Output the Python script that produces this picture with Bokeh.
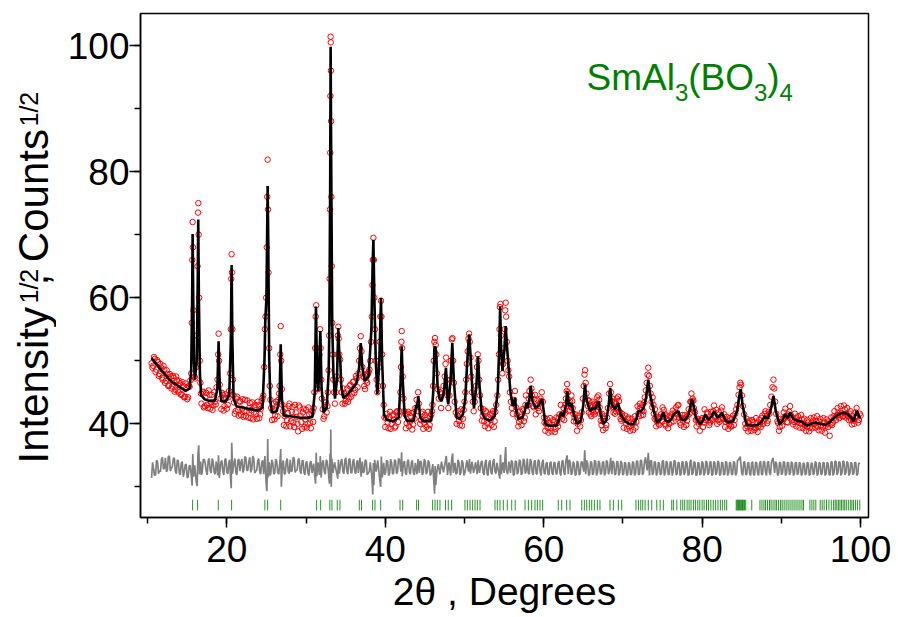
import numpy as np
from bokeh.plotting import figure
from bokeh.models import Label, SingleIntervalTicker, Range1d
from bokeh.layouts import row
from bokeh.core.properties import value
from bokeh.embed import file_html
from bokeh.resources import INLINE

# ---------------- data ----------------
# calculated profile (black line): (2theta, sqrt(I))
calc_pts = [
    (10.5, 50.4), (11.2, 49.3), (12.0, 48.1), (13.0, 46.7), (14.0, 45.9), (14.8, 45.2), (15.3, 45.6),
    (15.5, 48.5), (15.62, 60.0), (15.68, 70.1), (15.76, 60.0), (15.85, 50.0), (15.97, 47.0),
    (16.2, 50.0), (16.32, 62.0), (16.39, 72.4), (16.47, 60.0), (16.6, 48.0), (16.75, 44.5),
    (17.2, 43.9), (17.9, 43.6), (18.5, 43.7), (18.8, 45.5), (18.96, 53.1), (19.1, 46.0), (19.3, 43.6),
    (19.8, 43.5), (20.3, 44.5), (20.5, 53.0), (20.6, 65.2), (20.7, 53.0), (20.85, 44.0),
    (21.2, 42.8), (22.0, 42.6), (23.0, 42.3), (24.0, 42.1), (24.5, 42.6), (24.75, 50.0), (24.85, 56.3),
    (25.0, 60.0), (25.1, 72.0), (25.15, 77.7), (25.22, 70.0), (25.35, 50.0), (25.5, 43.5), (25.7, 41.8),
    (26.3, 42.0), (26.65, 44.0), (26.8, 52.6), (26.95, 44.0), (27.2, 41.3), (28.0, 41.2), (29.0, 41.0),
    (30.0, 40.9), (30.8, 41.1), (31.1, 45.0), (31.25, 58.6), (31.4, 47.0), (31.55, 45.2), (31.8, 54.7),
    (31.95, 46.0), (32.2, 41.8), (32.6, 42.5), (32.85, 48.0), (32.95, 56.0), (33.05, 80.0), (33.1, 99.8),
    (33.18, 80.0), (33.3, 56.0), (33.45, 48.0), (33.65, 44.0), (33.9, 47.0), (34.07, 55.2), (34.2, 51.0),
    (34.3, 50.5), (34.45, 46.0), (34.7, 44.1), (35.2, 44.6), (35.8, 45.5), (36.4, 46.5), (36.7, 49.0),
    (36.9, 52.8), (37.1, 49.0), (37.4, 46.8), (37.9, 47.5), (38.25, 55.0), (38.4, 65.0), (38.5, 69.2),
    (38.62, 60.0), (38.8, 50.0), (39.0, 44.7), (39.25, 50.0), (39.46, 60.0), (39.6, 50.0), (39.84, 41.5),
    (40.2, 40.6), (41.0, 40.4), (41.7, 41.0), (41.95, 47.0), (42.07, 52.3), (42.2, 47.0), (42.45, 41.2),
    (42.8, 40.4), (43.6, 40.5), (43.9, 43.0), (44.0, 42.5), (44.17, 44.4), (44.4, 41.0), (44.8, 40.4),
    (45.8, 40.5), (46.05, 45.0), (46.2, 52.0), (46.3, 52.3), (46.42, 51.5), (46.6, 46.0), (46.85, 44.0),
    (47.1, 43.6), (47.4, 45.0), (47.66, 48.9), (47.85, 44.0), (47.95, 43.1), (48.25, 47.0), (48.46, 52.8),
    (48.65, 47.0), (49.0, 41.0), (49.4, 40.8), (49.8, 41.5), (50.1, 44.0), (50.3, 48.8), (50.45, 52.0),
    (50.6, 54.2), (50.8, 50.0), (51.0, 45.0), (51.2, 42.5), (51.5, 46.0), (51.7, 50.7), (51.9, 46.0),
    (52.17, 41.8), (52.6, 40.8), (53.2, 40.5), (53.8, 41.2), (54.2, 45.0), (54.4, 53.0), (54.5, 58.6),
    (54.62, 52.0), (54.8, 48.4), (55.05, 52.0), (55.2, 55.5), (55.38, 52.0), (55.6, 48.4), (55.8, 45.0),
    (56.1, 42.8), (56.37, 44.1), (56.55, 42.0), (56.8, 40.8), (57.3, 41.0), (57.6, 42.0), (57.8, 43.3),
    (58.0, 42.5), (58.2, 44.0), (58.36, 46.0), (58.6, 43.5), (59.0, 42.5), (59.4, 43.0), (59.8, 43.9),
    (60.0, 42.0), (60.2, 40.0), (60.7, 39.7), (61.6, 39.7), (61.9, 40.5), (62.15, 41.8), (62.5, 41.2),
    (62.8, 43.0), (62.98, 45.2), (63.2, 42.8), (63.5, 43.3), (63.8, 41.5), (64.2, 40.0), (64.7, 40.5),
    (65.0, 43.0), (65.2, 46.2), (65.4, 44.0), (65.6, 43.0), (65.85, 42.0), (66.2, 42.5), (66.5, 42.3),
    (66.9, 43.6), (67.2, 41.5), (67.5, 40.0), (67.9, 40.5), (68.2, 43.0), (68.4, 45.7), (68.6, 43.0),
    (69.0, 42.3), (69.4, 43.3), (69.7, 41.5), (70.27, 40.4), (70.8, 40.0), (71.3, 39.9), (71.7, 40.8),
    (71.95, 42.0), (72.3, 42.0), (72.6, 42.5), (72.9, 44.0), (73.2, 47.0), (73.4, 45.0), (73.6, 43.6),
    (73.9, 42.0), (74.3, 40.2), (74.7, 40.6), (75.1, 41.8), (75.4, 40.5), (75.8, 40.3), (76.2, 41.0),
    (76.5, 41.6), (77.0, 42.0), (77.3, 40.8), (77.8, 40.5), (78.3, 41.5), (78.7, 43.9), (78.9, 43.0),
    (79.2, 41.0), (79.75, 39.9), (80.1, 40.5), (80.4, 41.5), (80.8, 40.6), (81.2, 41.2), (81.5, 42.0),
    (81.9, 41.0), (82.2, 41.2), (82.5, 41.8), (82.9, 40.6), (83.3, 40.2), (83.9, 40.4), (84.4, 42.0),
    (84.7, 44.5), (84.87, 45.5), (85.1, 43.0), (85.6, 39.8), (86.3, 39.7), (87.0, 39.8), (87.5, 40.3),
    (87.9, 41.2), (88.3, 40.8), (88.7, 42.5), (89.0, 44.4), (89.3, 42.0), (89.75, 39.9), (90.1, 40.4),
    (90.47, 41.5), (90.8, 40.9), (91.1, 41.8), (91.5, 40.8), (92.0, 40.5), (92.5, 40.4), (93.2, 39.7),
    (93.8, 40.0), (94.3, 40.2), (94.8, 40.0), (95.3, 39.9), (95.7, 39.9), (96.2, 40.4), (96.7, 41.0),
    (97.2, 41.5), (97.8, 41.8), (98.3, 41.6), (98.8, 41.0), (99.1, 40.4), (99.5, 42.0), (99.9, 41.0),
    (100.0, 41.0),
]

# observed points (red open circles)
obs_pts = [
    (10.5, 49.6), (10.7, 49.2), (10.9, 50.3), (11.1, 48.6), (11.3, 49.8), (11.5, 47.9), (11.7, 48.9),
    (11.9, 47.0), (12.1, 48.6), (12.3, 46.8), (12.5, 47.9), (12.7, 46.1), (12.9, 47.5), (13.1, 45.9),
    (13.3, 47.3), (13.5, 45.4), (13.7, 46.9), (13.9, 45.0), (14.1, 46.4), (14.3, 44.7), (14.5, 46.0),
    (14.7, 44.3), (14.9, 45.7), (15.1, 44.2), (15.3, 45.9),
    (15.5, 48.0), (15.58, 56.0), (15.64, 66.0), (15.68, 72.0), (15.72, 68.0), (15.78, 58.0), (15.86, 50.0),
    (15.94, 47.5), (16.02, 47.2), (16.12, 49.0), (16.22, 54.0), (16.3, 65.0), (16.36, 73.5), (16.4, 75.0),
    (16.44, 70.0), (16.5, 60.0), (16.58, 50.0), (16.66, 46.5), (16.74, 44.8),
    (16.9, 45.0), (17.1, 42.6), (17.3, 44.2), (17.5, 43.0), (17.7, 45.3), (17.9, 42.4), (18.1, 44.6),
    (18.3, 42.9), (18.5, 43.5), (18.7, 45.8),
    (18.82, 47.0), (18.9, 51.0), (18.96, 54.3), (19.02, 50.0), (19.1, 46.2), (19.2, 44.0),
    (19.3, 42.3), (19.5, 44.6), (19.7, 42.8), (19.9, 44.1), (20.1, 43.0), (20.3, 45.2),
    (20.42, 48.0), (20.5, 55.0), (20.56, 63.0), (20.6, 66.9), (20.64, 64.0), (20.7, 55.0), (20.78, 47.0),
    (20.86, 44.5),
    (21.0, 41.6), (21.2, 44.0), (21.4, 42.2), (21.6, 43.6), (21.8, 41.4), (22.0, 43.9), (22.2, 42.0),
    (22.4, 41.2), (22.6, 43.7), (22.8, 42.5), (23.0, 40.9), (23.2, 43.4), (23.4, 41.8), (23.6, 43.0),
    (23.8, 40.8), (24.0, 42.9), (24.2, 41.5), (24.4, 43.6),
    (24.6, 44.5), (24.72, 49.0), (24.8, 55.0), (24.88, 57.0), (24.96, 60.0), (25.04, 68.0), (25.1, 76.0),
    (25.15, 81.9), (25.2, 74.0), (25.26, 64.0), (25.34, 52.0), (25.42, 46.0), (25.5, 43.8), (25.6, 42.5),
    (25.7, 40.6), (25.9, 43.2), (26.1, 41.3), (26.3, 42.9), (26.5, 43.8),
    (26.66, 46.0), (26.74, 51.0), (26.8, 55.5), (26.86, 50.0), (26.94, 45.5), (27.02, 43.0),
    (27.2, 39.8), (27.4, 42.4), (27.6, 40.6), (27.8, 42.8), (28.0, 39.6), (28.2, 41.9), (28.4, 40.2),
    (28.6, 43.0), (28.8, 41.1), (29.0, 38.8), (29.2, 42.6), (29.4, 40.3), (29.6, 41.8), (29.8, 39.5),
    (30.0, 42.2), (30.2, 40.0), (30.4, 41.5), (30.6, 39.3), (30.8, 42.0),
    (30.95, 42.5), (31.05, 45.0), (31.15, 52.0), (31.22, 57.0), (31.28, 58.8), (31.34, 52.0), (31.42, 47.0),
    (31.5, 45.5), (31.6, 47.0), (31.7, 51.0), (31.78, 55.0), (31.84, 52.0), (31.92, 47.0), (32.0, 44.0),
    (32.1, 42.3), (32.2, 40.8), (32.4, 42.9), (32.6, 41.8),
    (32.75, 45.0), (32.85, 48.5), (32.92, 54.0), (32.98, 63.0), (33.02, 74.0), (33.05, 83.0), (33.07, 92.0),
    (33.1, 101.4), (33.12, 100.5), (33.14, 96.0), (33.16, 88.0), (33.2, 76.0), (33.24, 65.0), (33.3, 56.0),
    (33.36, 51.0), (33.44, 47.0), (33.54, 45.0), (33.64, 43.2),
    (33.76, 45.0), (33.88, 47.5), (33.96, 51.0), (34.02, 54.0), (34.07, 55.4), (34.12, 53.5), (34.2, 51.0),
    (34.3, 50.2), (34.4, 47.0), (34.5, 45.0),
    (34.6, 43.2), (34.8, 44.8), (35.0, 43.6), (35.2, 45.6), (35.4, 44.0), (35.6, 46.2), (35.8, 44.8),
    (36.0, 46.7), (36.2, 45.4), (36.4, 47.2),
    (36.6, 48.0), (36.7, 50.0), (36.8, 52.0), (36.9, 53.9), (37.0, 51.5), (37.1, 49.0), (37.2, 47.5),
    (37.35, 46.0), (37.5, 47.8), (37.7, 46.5), (37.9, 48.2),
    (38.1, 50.0), (38.2, 53.0), (38.3, 57.0), (38.38, 62.0), (38.44, 66.0), (38.5, 69.5), (38.56, 66.0),
    (38.62, 60.0), (38.7, 55.0), (38.8, 50.0), (38.9, 47.0), (39.0, 45.0),
    (39.1, 46.0), (39.2, 49.0), (39.3, 53.0), (39.38, 57.0), (39.46, 59.5), (39.52, 57.0), (39.6, 51.0),
    (39.7, 46.0), (39.8, 43.0), (39.9, 41.0),
    (40.0, 39.5), (40.2, 41.6), (40.4, 39.3), (40.6, 41.9), (40.8, 40.0), (41.0, 41.5), (41.2, 39.4),
    (41.4, 41.8), (41.6, 40.3), (41.8, 42.0),
    (41.9, 45.0), (41.98, 49.0), (42.04, 53.0), (42.08, 54.7), (42.12, 52.0), (42.2, 47.5), (42.3, 44.0),
    (42.4, 42.0),
    (42.6, 39.3), (42.8, 41.6), (43.0, 39.6), (43.2, 41.2), (43.4, 39.1), (43.6, 41.8), (43.8, 42.5),
    (43.95, 43.8), (44.05, 42.0), (44.15, 45.0), (44.25, 43.2), (44.4, 40.0), (44.6, 41.6), (44.8, 39.2),
    (45.0, 41.4), (45.2, 39.5), (45.4, 41.9), (45.6, 39.8), (45.8, 41.5),
    (45.95, 43.0), (46.05, 46.0), (46.12, 50.0), (46.2, 53.0), (46.28, 53.6), (46.36, 52.5), (46.44, 51.0),
    (46.52, 48.0), (46.62, 45.5), (46.75, 44.0), (46.9, 45.0), (47.05, 42.5),
    (47.2, 44.8), (47.35, 46.0), (47.5, 47.5), (47.6, 49.5), (47.68, 50.5), (47.76, 47.0), (47.86, 44.5),
    (47.96, 42.5),
    (48.1, 44.5), (48.2, 47.0), (48.3, 50.0), (48.4, 53.4), (48.48, 53.6), (48.56, 50.0), (48.66, 46.5),
    (48.76, 43.5), (48.9, 41.8),
    (49.0, 40.0), (49.2, 42.0), (49.4, 39.8), (49.6, 42.3), (49.8, 40.8), (50.0, 43.5),
    (50.1, 45.0), (50.2, 47.0), (50.3, 49.5), (50.4, 51.5), (50.5, 53.5), (50.58, 54.3), (50.66, 53.0),
    (50.76, 50.5), (50.86, 47.5), (50.96, 45.0), (51.06, 43.5), (51.16, 42.0),
    (51.3, 43.5), (51.45, 46.0), (51.58, 49.0), (51.68, 51.0), (51.76, 50.0), (51.86, 47.0), (51.96, 44.5),
    (52.06, 42.5),
    (52.2, 40.5), (52.4, 42.3), (52.6, 39.6), (52.8, 41.8), (53.0, 39.3), (53.2, 41.5), (53.4, 39.8),
    (53.6, 42.0), (53.8, 40.4), (54.0, 43.0),
    (54.15, 44.5), (54.25, 47.0), (54.35, 51.0), (54.42, 55.0), (54.48, 58.5), (54.54, 59.0), (54.6, 54.0),
    (54.68, 50.0), (54.78, 48.0), (54.88, 49.5), (54.98, 52.0), (55.06, 55.0), (55.14, 58.0), (55.2, 59.2),
    (55.26, 57.0), (55.34, 53.0), (55.44, 50.0), (55.54, 48.5), (55.64, 47.5), (55.74, 45.0), (55.86, 43.5),
    (55.98, 42.5),
    (56.1, 41.6), (56.25, 43.8), (56.38, 45.2), (56.5, 42.6), (56.62, 41.5), (56.8, 39.6), (57.0, 41.9),
    (57.2, 39.8), (57.4, 42.1), (57.6, 41.0), (57.75, 44.5), (57.9, 42.0), (58.05, 43.0), (58.2, 45.2),
    (58.35, 47.0), (58.5, 44.5), (58.65, 42.8), (58.8, 43.9), (59.0, 41.5), (59.2, 43.8), (59.4, 42.0),
    (59.6, 44.0), (59.75, 45.0), (59.9, 43.5), (60.05, 41.0), (60.2, 38.9), (60.4, 40.8), (60.6, 38.6),
    (60.8, 40.9), (61.0, 38.8), (61.2, 40.6), (61.4, 38.7), (61.6, 41.0), (61.8, 39.6),
    (62.0, 41.5), (62.15, 43.0), (62.3, 40.8), (62.5, 42.5), (62.65, 41.6), (62.8, 44.0), (62.95, 46.3),
    (63.05, 45.0), (63.2, 42.0), (63.35, 43.5), (63.5, 44.5), (63.65, 42.5), (63.8, 40.4), (64.0, 41.5),
    (64.2, 38.9), (64.4, 40.9), (64.6, 39.6),
    (64.8, 41.8), (64.95, 44.0), (65.05, 46.0), (65.15, 47.8), (65.22, 48.5), (65.3, 46.5), (65.4, 44.8),
    (65.55, 43.8), (65.7, 41.8), (65.85, 42.9), (66.0, 41.2), (66.15, 43.5), (66.3, 41.8), (66.45, 43.2),
    (66.6, 42.0), (66.75, 44.2), (66.9, 44.5), (67.05, 42.6), (67.2, 40.5), (67.35, 41.6), (67.5, 39.0),
    (67.7, 41.2), (67.9, 39.8),
    (68.1, 42.5), (68.25, 44.8), (68.38, 46.3), (68.5, 45.0), (68.65, 43.0), (68.8, 41.8), (68.95, 43.5),
    (69.1, 42.0), (69.25, 44.0), (69.4, 44.3), (69.55, 42.0), (69.7, 40.8), (69.9, 41.6), (70.1, 39.4),
    (70.3, 41.3), (70.5, 39.2), (70.7, 41.0), (70.9, 38.9), (71.1, 40.8), (71.3, 39.0), (71.5, 41.2),
    (71.7, 40.3),
    (71.85, 42.8), (72.0, 41.2), (72.15, 43.2), (72.3, 41.3), (72.45, 43.0), (72.6, 42.0), (72.75, 44.2),
    (72.9, 45.3), (73.0, 46.5), (73.1, 47.8), (73.2, 48.9), (73.3, 47.6), (73.4, 46.0), (73.5, 44.8),
    (73.62, 43.5), (73.75, 44.2), (73.9, 41.6), (74.05, 42.3), (74.2, 39.6), (74.4, 41.1), (74.6, 39.8),
    (74.8, 41.5), (75.0, 42.6), (75.15, 42.2), (75.3, 40.0), (75.5, 41.3), (75.7, 39.3), (75.9, 41.2),
    (76.1, 40.2), (76.3, 42.1), (76.5, 41.0), (76.7, 42.6), (76.9, 42.9), (77.1, 41.0), (77.3, 39.8),
    (77.5, 41.4), (77.7, 39.5), (77.9, 41.0),
    (78.1, 40.5), (78.3, 42.3), (78.5, 43.5), (78.65, 44.8), (78.8, 44.0), (78.95, 42.5), (79.1, 41.8),
    (79.3, 39.6), (79.5, 40.8), (79.7, 38.9), (79.9, 40.6), (80.1, 39.5), (80.3, 42.3), (80.5, 40.6),
    (80.7, 41.6), (80.9, 39.8), (81.1, 41.9), (81.3, 40.6), (81.5, 42.9), (81.7, 41.2), (81.9, 40.0),
    (82.1, 41.8), (82.3, 40.7), (82.5, 42.6), (82.7, 40.8), (82.9, 39.5), (83.1, 41.1), (83.3, 39.2),
    (83.5, 40.9), (83.7, 39.6), (83.9, 41.3),
    (84.1, 40.6), (84.3, 42.3), (84.45, 43.0), (84.6, 44.6), (84.72, 45.8), (84.82, 46.5), (84.92, 46.2),
    (85.02, 44.5), (85.15, 42.8), (85.3, 41.5), (85.45, 40.0), (85.6, 40.8), (85.8, 38.8), (86.0, 40.5),
    (86.2, 38.9), (86.4, 40.3), (86.6, 39.0), (86.8, 40.9), (87.0, 38.7), (87.2, 40.6), (87.4, 39.5),
    (87.6, 41.3), (87.8, 40.5), (88.0, 42.0), (88.2, 40.1), (88.4, 41.9),
    (88.6, 43.0), (88.75, 44.3), (88.88, 45.8), (89.0, 47.0), (89.1, 45.6), (89.22, 43.5), (89.35, 41.6),
    (89.5, 40.4), (89.7, 38.9), (89.9, 40.8), (90.1, 39.7), (90.3, 41.8), (90.5, 42.4), (90.7, 40.3),
    (90.9, 41.5), (91.1, 42.8), (91.3, 41.0), (91.5, 39.9), (91.7, 41.6), (91.9, 39.6), (92.1, 41.2),
    (92.3, 39.4), (92.5, 41.4), (92.7, 39.3), (92.9, 40.8), (93.1, 38.9), (93.3, 40.6), (93.5, 38.8),
    (93.7, 40.9), (93.9, 39.3), (94.1, 41.0), (94.3, 39.4), (94.5, 41.2), (94.7, 39.0), (94.9, 40.8),
    (95.1, 38.9), (95.3, 40.9), (95.5, 38.6), (95.7, 40.7), (95.9, 39.5), (96.1, 38.1), (96.3, 41.0),
    (96.5, 40.2), (96.7, 42.0), (96.9, 40.6), (97.1, 42.5), (97.3, 40.9), (97.5, 42.8), (97.7, 41.2),
    (97.9, 42.9), (98.1, 41.0), (98.3, 42.5), (98.5, 40.6), (98.7, 42.0), (98.9, 39.9), (99.1, 40.5),
    (99.3, 41.0), (99.5, 42.5), (99.7, 40.2), (99.9, 41.6),
]

# further observed points lying between the ones above (background regions)
obs_pts_between = [
    (10.6, 48.9), (10.8, 50.6), (11.0, 48.2), (11.2, 50.1), (11.4, 47.6), (11.6, 49.5), (11.8, 47.3),
    (12.0, 49.2), (12.2, 46.5), (12.4, 48.5), (12.6, 46.0), (12.8, 47.9), (13.0, 45.6), (13.2, 47.6),
    (13.4, 45.1), (13.6, 47.5), (13.8, 45.3), (14.0, 46.8), (14.2, 44.6), (14.4, 46.6), (14.6, 44.2),
    (14.8, 46.4), (15.0, 43.9), (15.2, 46.0), (15.4, 46.9),
    (16.8, 43.2), (17.0, 45.1), (17.2, 42.8), (17.4, 44.9), (17.6, 42.5), (17.8, 44.6), (18.0, 43.4),
    (18.2, 42.2), (18.4, 45.0), (18.6, 43.1),
    (19.4, 44.9), (19.6, 42.1), (19.8, 44.7), (20.0, 42.4), (20.2, 44.2),
    (20.9, 43.4), (21.1, 42.0), (21.3, 44.3), (21.5, 41.3), (21.7, 43.5), (21.9, 42.4), (22.1, 41.1),
    (22.3, 43.8), (22.5, 42.0), (22.7, 41.0), (22.9, 43.3), (23.1, 42.2), (23.3, 40.7), (23.5, 42.6),
    (23.7, 41.6), (23.9, 43.5), (24.1, 40.9), (24.3, 42.4), (24.5, 44.1),
    (25.8, 42.1), (26.0, 40.7), (26.2, 43.5), (26.4, 41.2), (26.6, 44.8),
    (27.1, 42.0), (27.3, 41.2), (27.5, 39.6), (27.7, 41.7), (27.9, 43.2), (28.1, 40.4), (28.3, 42.7),
    (28.5, 39.5), (28.7, 41.8), (28.9, 40.0), (29.1, 42.9), (29.3, 41.3), (29.5, 39.2), (29.7, 42.4),
    (29.9, 40.7), (30.1, 39.4), (30.3, 42.6), (30.5, 40.2), (30.7, 41.6), (30.9, 40.3),
    (32.3, 41.2), (32.5, 43.4), (32.7, 42.8),
    (34.7, 45.6), (34.9, 43.2), (35.1, 44.4), (35.3, 43.5), (35.5, 46.0), (35.7, 44.3), (35.9, 46.6),
    (36.1, 44.9), (36.3, 47.6), (36.5, 45.8),
    (37.3, 47.4), (37.45, 45.5), (37.6, 46.9), (37.8, 47.9), (38.0, 48.6),
    (40.1, 40.9), (40.3, 40.2), (40.5, 41.1), (40.7, 39.2), (40.9, 41.3), (41.1, 40.6), (41.3, 39.6),
    (41.5, 42.0), (41.7, 41.3),
    (42.5, 41.6), (42.7, 40.1), (42.9, 41.9), (43.1, 40.3), (43.3, 41.7), (43.5, 39.9), (43.7, 40.8),
    (44.5, 40.6), (44.7, 41.9), (44.9, 40.2), (45.1, 40.6), (45.3, 41.0), (45.5, 39.2), (45.7, 41.2),
    (45.9, 42.0),
    (49.1, 41.3), (49.3, 40.5), (49.5, 41.0), (49.7, 39.7), (49.9, 42.2),
    (52.3, 41.3), (52.5, 40.4), (52.7, 42.0), (52.9, 40.1), (53.1, 41.0), (53.3, 40.6), (53.5, 41.6),
    (53.7, 39.5), (53.9, 41.9),
    (56.7, 41.0), (56.9, 40.3), (57.1, 40.7), (57.3, 42.3), (57.5, 40.4), (57.7, 43.0), (58.1, 44.0),
    (58.45, 45.6), (58.75, 42.6), (58.9, 44.6), (59.1, 42.8), (59.3, 42.5), (59.5, 43.2), (59.7, 43.6),
    (60.1, 40.2), (60.3, 40.0), (60.5, 39.4), (60.7, 40.2), (60.9, 39.3), (61.1, 39.9), (61.3, 40.3),
    (61.5, 39.2), (61.7, 40.1), (61.9, 41.0),
    (62.4, 41.6), (62.6, 40.6), (62.7, 43.0), (62.9, 45.2), (63.1, 43.5), (63.3, 42.2), (63.45, 42.6),
    (63.6, 43.6), (63.75, 41.6), (63.9, 41.0), (64.1, 40.4), (64.3, 40.0), (64.5, 41.3), (64.7, 40.6),
    (65.6, 42.8), (65.75, 43.6), (65.9, 41.5), (66.05, 42.6), (66.25, 42.2), (66.4, 41.5), (66.55, 43.0),
    (66.7, 43.0), (66.85, 43.2), (67.0, 43.8), (67.1, 41.6), (67.3, 39.8), (67.45, 40.4), (67.6, 40.8),
    (67.8, 39.3), (68.0, 41.0),
    (68.55, 43.6), (68.7, 44.0), (68.85, 42.6), (69.0, 41.6), (69.15, 43.2), (69.3, 42.5), (69.5, 43.6),
    (69.65, 41.8), (69.8, 40.5), (70.0, 41.0), (70.2, 40.6), (70.4, 40.0), (70.6, 40.8), (70.8, 39.6),
    (71.0, 40.2), (71.2, 39.9), (71.4, 40.3), (71.6, 39.4),
    (71.95, 41.6), (72.1, 42.4), (72.25, 42.6), (72.4, 42.2), (72.55, 41.4), (72.7, 43.4), (73.7, 42.6),
    (73.85, 43.0), (74.0, 40.8), (74.15, 41.0), (74.3, 40.4), (74.5, 40.0), (74.7, 41.0), (74.9, 40.4),
    (75.05, 41.2), (75.25, 41.6), (75.4, 39.7), (75.6, 40.7), (75.8, 40.0), (76.0, 41.0), (76.2, 41.6),
    (76.4, 40.4), (76.6, 41.7), (76.8, 41.5), (77.0, 43.0), (77.2, 40.2), (77.4, 40.9), (77.6, 40.5),
    (77.8, 41.4), (78.0, 39.8),
    (78.2, 41.3), (78.4, 41.6), (78.6, 43.5), (78.75, 43.6), (78.9, 43.7), (79.0, 42.0), (79.2, 40.6),
    (79.4, 40.7), (79.6, 40.0), (79.8, 40.4), (80.0, 40.9), (80.2, 40.2), (80.4, 41.0), (80.6, 41.8),
    (80.8, 40.5), (81.0, 40.2), (81.2, 40.8), (81.4, 42.0), (81.6, 41.0), (81.8, 42.2), (82.0, 40.6),
    (82.2, 40.3), (82.4, 42.1), (82.6, 41.0), (82.8, 41.5), (83.0, 40.3), (83.2, 40.5), (83.4, 40.0),
    (83.6, 39.6), (83.8, 40.8), (84.0, 39.8), (84.2, 41.6),
    (85.5, 39.3), (85.7, 39.6), (85.9, 40.2), (86.1, 39.4), (86.3, 40.6), (86.5, 39.5), (86.7, 39.3),
    (86.9, 40.2), (87.1, 39.6), (87.3, 40.0), (87.5, 40.9), (87.7, 40.0), (87.9, 41.6), (88.1, 41.2),
    (88.3, 40.5), (88.5, 41.6),
    (89.6, 40.1), (89.8, 39.5), (90.0, 40.3), (90.2, 40.8), (90.4, 41.0), (90.6, 41.3), (90.8, 40.2),
    (91.0, 41.9), (91.2, 41.4), (91.4, 40.6), (91.6, 40.3), (91.8, 40.9), (92.0, 40.3), (92.2, 40.6),
    (92.4, 40.1), (92.6, 40.7), (92.8, 40.0), (93.0, 39.8), (93.2, 39.6), (93.4, 40.2), (93.6, 39.4),
    (93.8, 39.9), (94.0, 40.5), (94.2, 40.0), (94.4, 40.4), (94.6, 39.6), (94.8, 40.3), (95.0, 39.8),
    (95.2, 39.5), (95.4, 40.2), (95.6, 39.7), (95.8, 40.0), (96.0, 40.4), (96.2, 39.9), (96.4, 39.8),
    (96.6, 41.2), (96.8, 41.0), (97.0, 41.4), (97.2, 41.8), (97.4, 41.4), (97.6, 41.7), (97.8, 41.2),
    (98.0, 42.3), (98.2, 41.6), (98.4, 41.3), (98.6, 41.6), (98.8, 40.6), (99.0, 40.7), (99.2, 40.0),
    (99.4, 41.8), (99.6, 41.2), (99.8, 40.6), (100.0, 41.3),
]

# difference curve (grey line)
diff_pts = [
    (10.5, 31.4), (10.75, 32.9), (11.0, 31.9), (11.25, 34.0), (11.5, 32.6), (11.75, 34.4), (12.0, 32.8),
    (12.25, 34.6), (12.5, 32.7), (12.75, 34.8), (13.0, 33.0), (13.25, 34.5), (13.5, 32.5), (13.75, 34.3),
    (14.0, 32.2), (14.25, 33.8), (14.5, 31.6), (14.75, 33.5), (15.0, 31.4), (15.25, 33.3), (15.5, 31.9),
    (15.62, 30.2), (15.7, 35.2), (15.8, 31.6), (15.95, 33.4), (16.1, 31.2), (16.25, 30.1), (16.35, 35.0),
    (16.45, 36.6), (16.55, 32.0), (16.7, 34.0), (16.9, 32.4), (17.15, 34.4), (17.4, 32.5), (17.65, 34.2),
    (17.9, 32.6), (18.15, 34.5), (18.4, 32.3), (18.65, 34.0), (18.85, 31.8), (18.95, 35.0), (19.05, 31.4),
    (19.25, 33.9), (19.5, 32.4), (19.75, 34.3), (20.0, 32.3), (20.25, 33.9), (20.45, 31.8), (20.55, 29.8),
    (20.62, 37.0), (20.72, 32.1), (20.9, 33.8), (21.15, 32.2), (21.4, 34.2), (21.65, 32.5), (21.9, 34.4),
    (22.15, 32.7), (22.4, 34.6), (22.65, 32.6), (22.9, 34.7), (23.15, 32.8), (23.4, 34.4), (23.65, 32.5),
    (23.9, 34.1), (24.15, 32.4), (24.4, 33.9), (24.65, 32.0), (24.8, 34.9), (24.95, 30.8), (25.05, 29.3),
    (25.12, 33.2), (25.16, 37.6), (25.22, 31.5), (25.35, 33.9), (25.55, 32.1), (25.8, 33.8), (26.05, 32.2),
    (26.3, 34.0), (26.55, 32.0), (26.72, 34.3), (26.8, 36.0), (26.88, 30.0), (27.0, 33.4), (27.25, 32.1),
    (27.5, 34.0), (27.75, 32.4), (28.0, 34.3), (28.25, 32.6), (28.5, 34.5), (28.75, 32.7), (29.0, 34.3),
    (29.25, 32.5), (29.5, 34.1), (29.75, 32.2), (30.0, 33.9), (30.25, 32.1), (30.5, 33.8), (30.75, 32.2),
    (30.95, 33.7), (31.1, 31.7), (31.2, 30.5), (31.28, 35.4), (31.36, 31.7), (31.5, 33.9), (31.7, 31.9),
    (31.8, 34.9), (31.9, 31.5), (32.05, 33.8), (32.3, 32.4), (32.55, 34.3), (32.8, 32.6), (32.95, 30.5),
    (33.03, 35.3), (33.08, 30.8), (33.12, 39.1), (33.18, 30.0), (33.26, 34.5), (33.4, 32.2), (33.6, 33.9),
    (33.85, 32.3), (34.0, 31.3), (34.08, 34.3), (34.2, 32.1), (34.4, 34.0), (34.65, 32.4), (34.9, 34.2),
    (35.15, 32.5), (35.4, 34.3), (35.65, 32.3), (35.9, 34.0), (36.15, 32.4), (36.4, 33.9), (36.6, 32.2),
    (36.8, 34.6), (36.95, 31.6), (37.1, 34.0), (37.35, 32.5), (37.6, 34.1), (37.85, 32.2), (38.1, 33.9),
    (38.3, 31.7), (38.42, 28.8), (38.5, 33.8), (38.56, 30.3), (38.66, 34.3), (38.85, 32.4), (39.05, 34.2),
    (39.3, 31.2), (39.42, 30.0), (39.5, 34.8), (39.62, 31.5), (39.8, 33.8), (40.05, 32.3), (40.3, 34.0),
    (40.55, 32.1), (40.8, 33.8), (41.05, 32.2), (41.3, 34.1), (41.55, 32.4), (41.8, 34.3), (41.98, 32.4),
    (42.06, 35.5), (42.14, 31.7), (42.3, 33.8), (42.55, 32.2), (42.8, 34.0), (43.05, 32.3), (43.3, 33.9),
    (43.55, 32.2), (43.8, 33.8), (44.0, 32.0), (44.15, 34.4), (44.3, 32.2), (44.55, 33.9), (44.8, 32.3),
    (45.05, 34.0), (45.3, 32.4), (45.55, 33.8), (45.8, 32.1), (46.0, 33.6), (46.12, 31.0), (46.22, 28.9),
    (46.3, 33.3), (46.38, 30.3), (46.5, 32.3), (46.7, 33.6), (46.9, 32.0), (47.1, 34.0), (47.35, 32.3),
    (47.6, 34.2), (47.7, 34.9), (47.85, 31.9), (48.05, 33.9), (48.25, 31.8), (48.4, 34.6), (48.5, 35.3),
    (48.6, 32.2), (48.8, 33.8), (49.05, 32.2), (49.3, 33.9), (49.55, 32.3), (49.8, 33.8), (50.05, 32.2),
    (50.3, 34.2), (50.5, 32.4), (50.62, 34.4), (50.75, 32.1), (50.95, 34.0), (51.15, 32.2), (51.4, 33.9),
    (51.6, 32.0), (51.72, 34.2), (51.9, 32.2), (52.1, 33.9), (52.35, 32.2), (52.6, 33.8), (52.85, 32.1),
    (53.1, 33.9), (53.35, 32.3), (53.6, 34.0), (53.85, 32.4), (54.1, 33.8), (54.3, 32.4), (54.45, 31.3),
    (54.54, 35.1), (54.65, 32.0), (54.85, 33.9), (55.0, 32.2), (55.12, 34.8), (55.2, 36.3), (55.28, 32.7),
    (55.45, 32.0), (55.6, 34.0), (55.8, 32.2), (56.05, 33.9), (56.3, 32.0), (56.55, 34.0), (56.8, 32.4),
    (57.05, 34.1), (57.3, 32.2), (57.55, 34.2), (57.8, 32.6), (58.05, 32.2), (58.3, 34.4), (58.55, 32.3),
    (58.8, 34.0), (59.05, 32.1), (59.3, 34.3), (59.55, 32.4), (59.8, 33.9), (60.05, 32.2), (60.3, 33.7),
    (60.55, 32.0), (60.8, 33.8), (61.05, 32.2), (61.3, 33.9), (61.55, 32.1), (61.8, 33.7), (62.05, 32.2),
    (62.3, 34.0), (62.55, 32.3), (62.8, 34.2), (62.95, 35.0), (63.1, 32.0), (63.35, 33.9), (63.6, 32.2),
    (63.85, 33.7), (64.1, 32.0), (64.35, 33.8), (64.6, 32.1), (64.85, 34.0), (65.05, 32.4), (65.18, 35.8),
    (65.3, 32.0), (65.55, 33.7), (65.8, 32.0), (66.05, 33.9), (66.3, 32.2), (66.55, 34.0), (66.8, 32.3),
    (67.05, 33.8), (67.3, 32.1), (67.55, 34.0), (67.8, 32.2), (68.05, 33.9), (68.3, 32.5), (68.45, 34.6),
    (68.6, 32.0), (68.85, 33.8), (69.1, 32.1), (69.35, 34.0), (69.6, 32.2), (69.85, 33.8), (70.1, 32.1),
    (70.35, 33.7), (70.6, 32.0), (70.85, 33.6), (71.1, 32.1), (71.35, 33.8), (71.6, 32.2), (71.85, 34.1),
    (72.1, 32.1), (72.35, 34.2), (72.6, 32.3), (72.85, 34.7), (73.05, 32.6), (73.2, 35.4), (73.35, 31.8),
    (73.6, 34.2), (73.85, 32.2), (74.1, 33.9), (74.35, 32.2), (74.6, 33.7), (74.85, 32.1), (75.1, 34.2),
    (75.35, 32.2), (75.6, 33.8), (75.85, 32.0), (76.1, 33.9), (76.35, 32.4), (76.6, 34.0), (76.85, 32.1),
    (77.1, 33.8), (77.35, 32.1), (77.6, 33.9), (77.85, 32.3), (78.1, 33.7), (78.35, 32.0), (78.6, 34.3),
    (78.85, 32.2), (79.1, 33.8), (79.35, 31.9), (79.6, 33.7), (79.85, 32.1), (80.1, 33.8), (80.35, 32.2),
    (80.6, 33.9), (80.85, 32.2), (81.1, 34.0), (81.35, 32.0), (81.6, 33.8), (81.85, 32.2), (82.1, 33.9),
    (82.35, 32.1), (82.6, 33.8), (82.85, 32.0), (83.1, 33.9), (83.35, 32.2), (83.6, 33.7), (83.85, 32.0),
    (84.1, 33.8), (84.35, 32.2), (84.6, 34.3), (84.8, 34.8), (85.0, 32.2), (85.25, 33.9), (85.5, 32.0),
    (85.75, 33.7), (86.0, 32.1), (86.25, 33.8), (86.5, 31.9), (86.75, 33.9), (87.0, 32.2), (87.25, 33.7),
    (87.5, 32.0), (87.75, 34.0), (88.0, 32.3), (88.25, 33.8), (88.5, 32.2), (88.75, 33.9), (88.95, 34.6),
    (89.15, 32.2), (89.4, 33.7), (89.65, 32.1), (89.9, 33.8), (90.15, 32.2), (90.4, 33.9), (90.65, 32.1),
    (90.9, 33.8), (91.15, 32.3), (91.4, 33.7), (91.65, 32.1), (91.9, 33.8), (92.15, 32.2), (92.4, 33.7),
    (92.65, 32.0), (92.9, 33.6), (93.15, 32.1), (93.4, 33.7), (93.65, 32.0), (93.9, 33.7), (94.15, 32.2),
    (94.4, 33.8), (94.65, 32.1), (94.9, 33.7), (95.15, 32.2), (95.4, 33.8), (95.65, 32.1), (95.9, 33.7),
    (96.15, 31.9), (96.4, 33.9), (96.65, 32.2), (96.9, 34.0), (97.15, 32.3), (97.4, 33.9), (97.65, 32.2),
    (97.9, 34.0), (98.15, 32.3), (98.4, 33.8), (98.65, 32.1), (98.9, 33.7), (99.15, 32.2), (99.4, 33.8),
    (99.65, 32.1), (99.9, 33.6),
]

# further difference values between the ones above
diff_pts_between = [
    (10.62, 33.9), (10.87, 31.8), (11.12, 34.2), (11.37, 32.1), (11.62, 32.4), (11.87, 34.7), (12.12, 33.0),
    (12.37, 32.4), (12.62, 34.9), (12.87, 32.5), (13.12, 33.2), (13.37, 34.6), (13.62, 32.1), (13.87, 34.1),
    (14.12, 31.9), (14.37, 34.0), (14.62, 32.3), (14.87, 33.6), (15.12, 31.6), (15.37, 33.4),
    (16.8, 31.9), (17.02, 34.3), (17.27, 33.7), (17.52, 31.9), (17.77, 34.5), (18.02, 32.2), (18.27, 33.9),
    (18.52, 32.0), (19.37, 34.2), (19.62, 31.9), (19.87, 34.5), (20.12, 32.1), (20.35, 34.3),
    (21.02, 34.5), (21.27, 31.9), (21.52, 34.4), (21.77, 33.9), (22.02, 32.3), (22.27, 34.8), (22.52, 32.6),
    (22.77, 34.0), (23.02, 32.3), (23.27, 34.9), (23.52, 32.2), (23.77, 32.6), (24.02, 34.5), (24.27, 32.0),
    (24.52, 34.2), (25.45, 31.8), (25.67, 34.3), (25.92, 32.0), (26.17, 34.4), (26.42, 32.3),
    (27.12, 34.2), (27.37, 32.0), (27.62, 34.5), (27.87, 32.1), (28.12, 32.4), (28.37, 34.7), (28.62, 32.3),
    (28.87, 32.6), (29.12, 34.5), (29.37, 32.1), (29.62, 34.2), (29.87, 31.9), (30.12, 34.0), (30.37, 31.8),
    (30.62, 34.1), (32.17, 34.2), (32.42, 32.0), (32.67, 34.0),
    (34.52, 34.4), (34.77, 32.1), (35.02, 34.6), (35.27, 32.0), (35.52, 34.5), (35.77, 32.2), (36.02, 34.4),
    (36.27, 32.1), (36.5, 34.2), (37.22, 32.2), (37.47, 34.3), (37.72, 31.9), (37.97, 32.4),
    (39.92, 31.9), (40.17, 34.2), (40.42, 31.8), (40.67, 34.4), (40.92, 32.0), (41.17, 34.3), (41.42, 32.1),
    (41.67, 34.5), (42.42, 34.1), (42.67, 31.9), (42.92, 34.3), (43.17, 32.0), (43.42, 34.2), (43.67, 31.9),
    (44.42, 34.1), (44.67, 31.9), (44.92, 34.4), (45.17, 32.0), (45.42, 34.2), (45.67, 31.8),
    (48.92, 32.0), (49.17, 34.3), (49.42, 31.9), (49.67, 34.2), (49.92, 31.8),
    (52.22, 34.1), (52.47, 31.9), (52.72, 34.3), (52.97, 31.8), (53.22, 34.2), (53.47, 32.0), (53.72, 34.4),
    (53.97, 32.1), (55.92, 34.2), (56.17, 31.8), (56.42, 34.1), (56.67, 32.0), (56.92, 34.3), (57.17, 31.9),
    (57.42, 34.4), (57.67, 32.1), (57.92, 34.5), (58.17, 32.0), (58.42, 34.0), (58.67, 31.9), (58.92, 34.2),
    (59.17, 32.0), (59.42, 34.1), (59.67, 31.8), (59.92, 34.3), (60.17, 32.0), (60.42, 33.9), (60.67, 31.9),
    (60.92, 34.0), (61.17, 31.9), (61.42, 33.8), (61.67, 32.0), (61.92, 34.1),
    (62.17, 31.8), (62.42, 34.2), (62.67, 31.9), (63.22, 34.3), (63.47, 31.9), (63.72, 34.0), (63.97, 31.8),
    (64.22, 34.1), (64.47, 31.9), (64.72, 33.9), (65.42, 34.2), (65.67, 31.8), (65.92, 34.0), (66.17, 31.9),
    (66.42, 34.2), (66.67, 31.8), (66.92, 34.1), (67.17, 32.0), (67.42, 33.9), (67.67, 31.8), (67.92, 34.2),
    (68.17, 32.0), (68.72, 34.1), (68.97, 31.9), (69.22, 34.0), (69.47, 31.8), (69.72, 34.1), (69.97, 31.9),
    (70.22, 33.9), (70.47, 31.8), (70.72, 33.9), (70.97, 31.9), (71.22, 34.0), (71.47, 31.8), (71.72, 34.1),
    (71.97, 31.9), (72.22, 34.2), (72.47, 31.9), (72.72, 34.0),
    (73.47, 34.1), (73.72, 31.9), (73.97, 34.0), (74.22, 31.8), (74.47, 33.9), (74.72, 31.9), (74.97, 34.0),
    (75.22, 31.8), (75.47, 34.1), (75.72, 31.9), (75.97, 34.0), (76.22, 31.8), (76.47, 34.2), (76.72, 31.9),
    (76.97, 33.9), (77.22, 31.8), (77.47, 34.0), (77.72, 31.9), (77.97, 34.1), (78.22, 31.8), (78.47, 33.9),
    (78.72, 31.9), (78.97, 34.0), (79.22, 31.8), (79.47, 33.9), (79.72, 31.9), (79.97, 34.0), (80.22, 31.8),
    (80.47, 34.1), (80.72, 31.9), (80.97, 33.9), (81.22, 31.8), (81.47, 34.0), (81.72, 31.9), (81.97, 34.1),
    (82.22, 31.8), (82.47, 33.9), (82.72, 31.9), (82.97, 34.0), (83.22, 31.8), (83.47, 33.9), (83.72, 31.9),
    (83.97, 34.0), (84.22, 31.8), (84.47, 34.2),
    (85.12, 31.8), (85.37, 34.0), (85.62, 31.9), (85.87, 33.9), (86.12, 31.8), (86.37, 34.0), (86.62, 31.9),
    (86.87, 33.9), (87.12, 31.8), (87.37, 34.1), (87.62, 31.9), (87.87, 34.0), (88.12, 31.8), (88.37, 34.1),
    (88.62, 31.9), (89.27, 34.0), (89.52, 31.8), (89.77, 33.9), (90.02, 31.9), (90.27, 34.0), (90.52, 31.8),
    (90.77, 33.9), (91.02, 31.9), (91.27, 34.0), (91.52, 31.8), (91.77, 33.9), (92.02, 31.9), (92.27, 33.9),
    (92.52, 31.8), (92.77, 33.8), (93.02, 31.9), (93.27, 33.9), (93.52, 31.8), (93.77, 33.8), (94.02, 31.9),
    (94.27, 34.0), (94.52, 31.8), (94.77, 33.9), (95.02, 31.9), (95.27, 33.9), (95.52, 31.8), (95.77, 33.9),
    (96.02, 31.9), (96.27, 34.0), (96.52, 31.8), (96.77, 34.1), (97.02, 31.9), (97.27, 34.0), (97.52, 31.8),
    (97.77, 34.1), (98.02, 31.9), (98.27, 34.0), (98.52, 31.8), (98.77, 33.9), (99.02, 31.9), (99.27, 33.9),
    (99.52, 31.8), (99.77, 33.8),
]

# Bragg reflection positions (green ticks)
bragg_pos = [
    15.68, 16.31, 18.92, 20.6, 24.8, 25.15, 26.8, 31.33, 31.84, 33.0, 33.27, 33.94, 34.28, 36.72, 37.0,
    38.4, 38.7, 39.42, 41.86, 42.2, 43.96, 44.2, 45.98, 46.28, 46.57, 46.9, 47.6, 47.95, 48.38, 50.06,
    50.36, 50.7, 51.03, 51.33, 51.62, 51.96, 53.85, 54.14, 54.48, 54.9, 55.4, 55.96, 56.4, 57.64, 58.06,
    58.48, 58.9, 59.2, 59.53, 59.87, 61.84, 62.27, 62.9, 63.32, 64.8, 65.13, 65.43, 65.76, 66.06, 66.39,
    66.77, 67.1, 68.37, 68.79, 69.42, 69.85, 71.65, 71.95, 72.25, 72.5, 72.8, 73.2, 73.64, 74.27, 74.7,
    75.1, 76.16, 76.37, 76.8, 77.3, 77.55, 77.8, 78.1, 78.35, 78.6, 78.9, 79.15, 79.45, 79.7, 80.0,
    80.25, 80.55, 80.8, 81.1, 81.4, 81.7, 82.0, 82.3, 82.55, 82.85, 83.1, 84.3, 84.4, 84.5, 84.6, 84.7,
    84.8, 84.9, 85.0, 85.1, 85.2, 85.35, 85.5, 86.26, 87.3, 87.55, 87.8, 88.0, 88.25, 88.5, 88.7, 88.95,
    89.2, 89.4, 89.65, 89.9, 90.1, 90.35, 90.6, 90.85, 91.1, 91.35, 91.6, 91.85, 92.1, 92.35, 92.6, 92.8,
    93.6, 93.85, 94.1, 94.35, 94.9, 95.15, 95.4, 95.7, 96.0, 96.3, 96.6, 96.8, 97.0, 97.2, 97.4, 97.6,
    97.8, 98.0, 98.2, 98.45, 98.7, 98.9, 99.1, 99.35, 99.6, 99.9,
]

calc_x = [a for a, b in calc_pts]
calc_y = [b for a, b in calc_pts]
obs_all = obs_pts + obs_pts_between
obs_x = [a for a, b in obs_all]
obs_y = [b for a, b in obs_all]
diff_all = sorted(diff_pts + diff_pts_between)
diff_x = [a for a, b in diff_all]
diff_y = [b for a, b in diff_all]

# ---------------- layout constants ----------------
FONT = "Liberation Sans"
GREEN = "#008000"
H = 616
TOP = 13          # frame top (px from top)
BOTTOM = 517      # frame bottom (px from top)
YLAB_W = 56
MAIN_W = 841

# ---------------- main figure ----------------
p = figure(width=MAIN_W, height=H, output_backend="svg", toolbar_location=None,
           x_range=Range1d(9.1, 101.0), y_range=Range1d(25.14, 105.08),
           min_border_left=84, min_border_right=29, min_border_top=TOP, min_border_bottom=H - BOTTOM,
           background_fill_color="white", border_fill_color="white")
p.grid.visible = False
p.outline_line_color = "black"
p.outline_line_width = 1.5

p.xaxis.ticker = SingleIntervalTicker(interval=20, num_minor_ticks=2)
p.yaxis.ticker = SingleIntervalTicker(interval=20, num_minor_ticks=2)
for ax in (p.xaxis, p.yaxis):
    ax.axis_line_color = "black"
    ax.axis_line_width = 1.5
    ax.major_tick_line_color = "black"
    ax.minor_tick_line_color = "black"
    ax.major_tick_line_width = 1.5
    ax.minor_tick_line_width = 1.5
    ax.major_tick_in = 0
    ax.minor_tick_in = 0
    ax.major_label_text_font = FONT
    ax.major_label_text_font_size = "37px"
    ax.major_label_text_color = "black"
p.xaxis.major_tick_out = 10
p.xaxis.minor_tick_out = 6
p.yaxis.major_tick_out = 11
p.yaxis.minor_tick_out = 6
p.xaxis.major_label_standoff = 8
p.yaxis.major_label_standoff = 0

p.xaxis.axis_label = "2\u03b8 , Degrees"
p.xaxis.axis_label_text_font = FONT
p.xaxis.axis_label_text_font_size = "39px"
p.xaxis.axis_label_text_font_style = "normal"
p.xaxis.axis_label_text_color = "black"
p.xaxis.axis_label_standoff = 5

# Bragg ticks
p.segment(x0=bragg_pos, y0=26.26, x1=bragg_pos, y1=27.96, line_color=GREEN, line_width=1, line_alpha=0.85)
# difference
p.line(diff_x, diff_y, line_color="#808080", line_width=1.7)
# observed
p.scatter(obs_x, obs_y, marker="circle", size=5.5, fill_color=None, line_color="red", line_width=1)
# calculated
p.line(calc_x, calc_y, line_color="black", line_width=2.6)

def lab(x, y, text, size):
    p.add_layout(Label(x=x, y=y, text=text, text_font=FONT, text_font_size=size, text_color=GREEN,
                       text_align="left", text_baseline="alphabetic"))

# formula label
lab(65.41, 94.98, "SmAl", "37px")
lab(76.57, 92.6, "3", "24px")
lab(78.25, 94.98, "(BO", "37px")
lab(86.55, 92.6, "3", "24px")
lab(88.23, 94.98, ")", "37px")
lab(89.78, 92.6, "4", "24px")

# ---------------- y-axis title strip ----------------
# its frame spans the same rows as the main frame; y is "px from page bottom"
q = figure(width=YLAB_W, height=H, output_backend="svg", toolbar_location=None,
           x_range=Range1d(0, YLAB_W), y_range=Range1d(H - BOTTOM, H - TOP),
           x_axis_type=None, y_axis_type=None,
           min_border_left=0, min_border_right=0, min_border_top=TOP, min_border_bottom=H - BOTTOM,
           background_fill_color="white", border_fill_color="white")
q.outline_line_color = None
A = np.pi / 2
# (x of the text-box centre line, y where the text starts, text, size)
ylab_parts = [
    (32.5, H - 463, "Intensity", "42px"),
    (28.3, H - 303, "1/2", "25px"),
    (32.5, H - 285, ", Counts", "42px"),
    (28.3, H - 126, "1/2", "25px"),
]
for xx, yy, tt, fs in ylab_parts:
    q.text(x=[xx], y=[yy], text=[tt], angle=A, text_font=value(FONT), text_font_size=value(fs),
           text_color="black", text_align="left", text_baseline="middle")

layout = row(q, p)
open("out.html", "w").write(file_html(layout, INLINE))
